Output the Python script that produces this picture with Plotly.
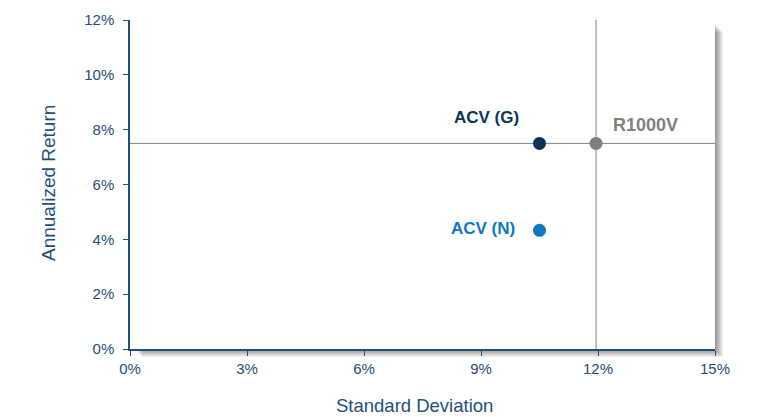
import plotly.graph_objects as go

names = ["ACV (G)", "R1000V", "ACV (N)"]
std_dev = [10.5, 11.95, 10.5]
ann_ret = [7.5, 7.5, 4.33]
colors = ["#0B3558", "#7F7F7F", "#1077C3"]
label_x = [9.13, 13.23, 9.05]
label_y = [8.46, 8.17, 4.38]
label_size = [17, 18, 17]

x_ticks = [0, 3, 6, 9, 12, 15]
y_ticks = [0, 2, 4, 6, 8, 10, 12]

axis_col = "#1F4E79"
FONT = "Liberation Sans, Arial"
fig = go.Figure()

# crosshair lines through benchmark
fig.add_trace(go.Scatter(x=[0, 15], y=[ann_ret[1], ann_ret[1]], mode="lines",
                         line=dict(color="#808080", width=1), hoverinfo="skip", showlegend=False))
fig.add_trace(go.Scatter(x=[std_dev[1], std_dev[1]], y=[0, 12], mode="lines",
                         line=dict(color="#808080", width=1), hoverinfo="skip", showlegend=False))

fig.add_trace(go.Scatter(x=std_dev, y=ann_ret, mode="markers",
                         marker=dict(size=13, color=colors), showlegend=False, cliponaxis=False))

for n, lx, ly, c, s in zip(names, label_x, label_y, colors, label_size):
    fig.add_annotation(x=lx, y=ly, text="<b>%s</b>" % n, showarrow=False,
                       font=dict(size=s, color=c, family=FONT),
                       xanchor="center", yanchor="middle")

# page has an 8px body margin: figure sized to fit inside the 765x417 window
OFF = 8
W, H = 765 - OFF, 417 - OFF
L, R, T, B = 130 - OFF, 50, 20 - OFF, 68
pw, ph = W - L - R, H - T - B

# axis titles (positions given in page pixels)
fig.add_annotation(xref="paper", yref="paper", x=(414 - OFF - L) / pw, y=(H - B - (406 - OFF)) / ph,
                   text="Standard Deviation", showarrow=False, xanchor="center", yanchor="middle",
                   font=dict(size=18.5, color=axis_col, family=FONT))
fig.add_annotation(xref="paper", yref="paper", x=(48 - OFF - L) / pw, y=(H - B - (183 - OFF)) / ph,
                   text="Annualized Return", showarrow=False, xanchor="center", yanchor="middle",
                   textangle=-90, font=dict(size=19, color=axis_col, family=FONT))

# soft drop shadow
steps = 8
for i in range(steps):
    off = steps - i
    fig.add_shape(type="rect", xref="paper", yref="paper", layer="below",
                  x0=(off + 4) / pw, x1=1 + off / pw, y0=-off / ph, y1=1 - (off + 4) / ph,
                  line_width=0, fillcolor="rgba(0,0,0,0.06)")
fig.add_shape(type="rect", xref="paper", yref="paper", layer="below",
              x0=0, x1=1, y0=0, y1=1, line_width=0, fillcolor="white")

fig.update_layout(
    width=W, height=H, margin=dict(l=L, r=R, t=T, b=B, autoexpand=False),
    paper_bgcolor="white", plot_bgcolor="rgba(0,0,0,0)",
    font=dict(family=FONT, color=axis_col, size=15),
    xaxis=dict(range=[0, 15], tickvals=x_ticks, ticktext=["%d%%" % v for v in x_ticks],
               showgrid=False, zeroline=False, showline=True, linecolor=axis_col, linewidth=1.5,
               ticks="outside", ticklen=5, tickcolor=axis_col, automargin=False),
    yaxis=dict(range=[0, 12], tickvals=y_ticks, ticktext=["%d%%" % v for v in y_ticks],
               showgrid=False, zeroline=False, showline=True, linecolor=axis_col, linewidth=1.5,
               ticks="outside", ticklen=5, tickcolor=axis_col, automargin=False,
               ticklabelstandoff=6),
)

fig.write_html("out.html")
